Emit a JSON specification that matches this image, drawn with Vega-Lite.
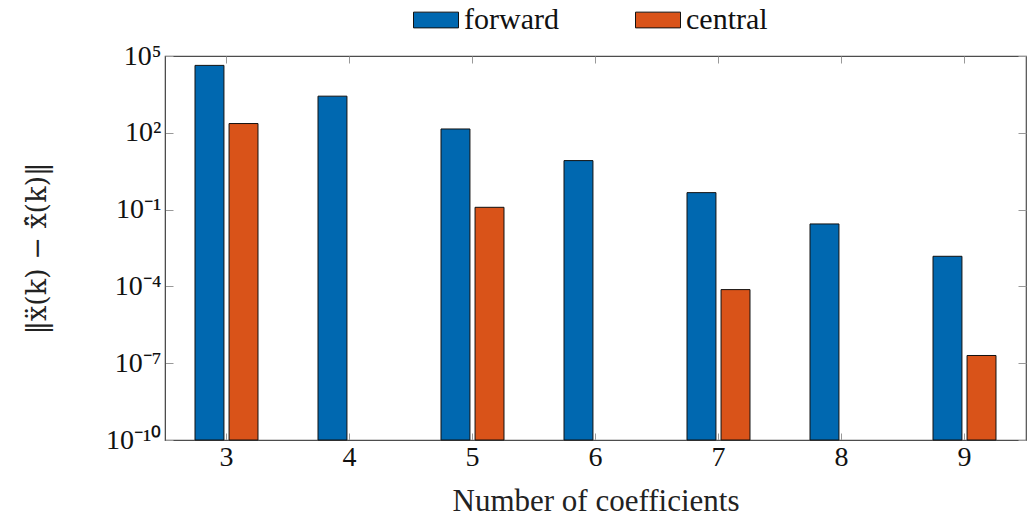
{
  "$schema": "https://vega.github.io/schema/vega-lite/v6.json",
  "width": 861,
  "height": 384,
  "autosize": {"type": "none"},
  "padding": {"left": 165, "top": 56, "right": 1, "bottom": 81},
  "config": {
    "font": "Liberation Serif",
    "view": {"stroke": "#4d4d4d", "strokeWidth": 1.2},
    "axis": {"grid": false, "domainColor": "#4d4d4d", "tickColor": "#999999", "labelColor": "#111111", "titleColor": "#222222", "titleFontWeight": "normal", "labelFont": "Liberation Serif", "titleFont": "Liberation Serif"}
  },
  "data": {
    "values": [
      {"n": 3, "method": "forward", "err": 43000},
      {"n": 3, "method": "central", "err": 230},
      {"n": 4, "method": "forward", "err": 2700},
      {"n": 5, "method": "forward", "err": 141},
      {"n": 5, "method": "central", "err": 0.123},
      {"n": 6, "method": "forward", "err": 8.2},
      {"n": 7, "method": "forward", "err": 0.46},
      {"n": 7, "method": "central", "err": 0.000075},
      {"n": 8, "method": "forward", "err": 0.0275},
      {"n": 9, "method": "forward", "err": 0.0015},
      {"n": 9, "method": "central", "err": 2.0e-7}
    ]
  },
  "layer": [
    {
      "mark": {"type": "bar", "stroke": "#111111", "strokeWidth": 1},
      "encoding": {
        "x": {
          "field": "n", "type": "ordinal",
          "scale": {"paddingInner": 0.488, "paddingOuter": 0.244},
          "axis": {"orient": "bottom", "title": "Number of coefficients", "titleFontSize": 31, "titleY": 46, "titleBaseline": "top", "labelFontSize": 28, "labelAngle": 0, "labelPadding": 10, "tickSize": -7, "domain": true}
        },
        "xOffset": {"field": "method", "type": "nominal", "scale": {"domain": ["forward", "central"], "paddingInner": 0.15}},
        "y": {
          "field": "err", "type": "quantitative", "stack": null,
          "scale": {"type": "log", "domain": [1e-10, 100000], "nice": false},
          "axis": {
            "orient": "left",
            "values": [1e-10, 1e-7, 0.0001, 0.1, 100, 100000],
            "labelExpr": "datum.value > 10000 ? '10⁵' : datum.value > 10 ? '10²' : datum.value > 0.01 ? '10⁻¹' : datum.value > 0.00001 ? '10⁻⁴' : datum.value > 1e-8 ? '10⁻⁷' : '10⁻¹⁰'",
            "labelFontSize": 28, "labelPadding": 12, "tickSize": -8,
            "title": "‖ẍ(k) − x̂̈(k)‖", "titleFont": "DejaVu Serif", "titleFontSize": 27, "titleAngle": -90, "titleX": -128, "titleY": 192, "titleAlign": "center", "titleBaseline": "middle"
          }
        },
        "color": {
          "field": "method", "type": "nominal",
          "scale": {"domain": ["forward", "central"], "range": ["#0068B0", "#D95319"]},
          "legend": {
            "title": null, "orient": "none", "direction": "horizontal", "legendX": 248, "legendY": -59,
            "symbolType": "M-1,-0.35H1V0.35H-1Z", "symbolSize": 2025, "symbolStrokeColor": "#111111", "symbolStrokeWidth": 1, "symbolOpacity": 1,
            "labelFontSize": 30, "labelFont": "Liberation Serif", "labelColor": "#111111", "labelOffset": 5, "columnPadding": 74
          }
        }
      }
    },
    {
      "mark": {"type": "bar", "opacity": 0},
      "encoding": {
        "x": {"field": "n", "type": "ordinal", "axis": {"orient": "top", "labels": false, "title": null, "tickSize": -7, "domain": false}},
        "y": {"field": "err", "type": "quantitative", "stack": null, "axis": {"orient": "right", "values": [1e-10, 1e-7, 0.0001, 0.1, 100, 100000], "labels": false, "title": null, "tickSize": -8, "domain": false}}
      }
    }
  ],
  "resolve": {"axis": {"x": "independent", "y": "independent"}}
}
